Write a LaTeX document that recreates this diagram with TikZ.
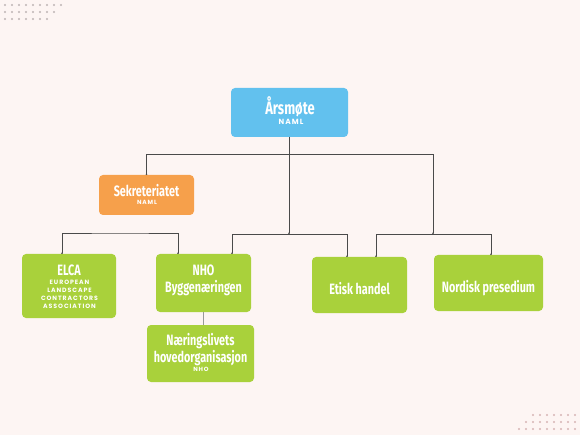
\documentclass[tikz,border=0pt]{standalone}
\usepackage{fontspec}
\usetikzlibrary{arrows.meta}
\newfontfamily\condfont[FakeStretch=0.72]{Fira Sans}
\newfontfamily\spacedfont[LetterSpace=15]{Poppins}
\newcommand\boxtitle[1]{{\condfont\bfseries\fontsize{15}{17}\selectfont #1}}
\newcommand\bigtitle[1]{{\condfont\bfseries\fontsize{18}{20}\selectfont #1}}
\newcommand\boxsub[2]{{\spacedfont\bfseries\fontsize{#1}{8}\selectfont #2}}
\definecolor{bgC}{HTML}{FDF5F3}
\definecolor{blueC}{HTML}{62C1EE}
\definecolor{orangeC}{HTML}{F6A04B}
\definecolor{greenC}{HTML}{A9D13B}
\definecolor{lineC}{HTML}{4A4A4A}
\definecolor{dotA}{HTML}{BDB4B4}
\definecolor{dotB}{HTML}{D6B4B4}
\begin{document}
\begin{tikzpicture}[x=1pt,y=-1pt,
  box/.style={rounded corners=4pt, draw=none, outer sep=0pt, inner sep=0pt, anchor=north west},
  txt/.style={text=white, anchor=base, inner sep=0pt},
  conn/.style={draw=lineC, line width=0.7pt},
  tipend/.style={-{Circle[length=1.6pt]}},
  tipboth/.style={{Circle[length=1.6pt]}-{Circle[length=1.6pt]}},
  lightconn/.style={draw=black!40, line width=0.7pt}]
\fill[bgC] (0,0) rectangle (580,435);
\useasboundingbox (0,0) rectangle (580,435);
% decorative dots
\foreach \r/\n in {0/9,1/8,2/7}{
  \foreach \k in {1,...,\n}{
    \fill[dotA] ({5+7*(\k-1)},{5+7*\r}) circle (1.2);
  }
}
\foreach \r/\n in {0/7,1/8,2/9}{
  \foreach \k in {1,...,\n}{
    \fill[dotB] ({575-7*(\k-1)},{415+7*\r}) circle (1.2);
  }
}
% boxes
\node[box, fill=blueC, minimum width=117pt, minimum height=49pt] (arsmote) at (231,88) {};
\node[box, fill=orangeC, minimum width=95pt, minimum height=40pt] (sek) at (99,175) {};
\node[box, fill=greenC, minimum width=94pt, minimum height=64pt] (elca) at (22,254) {};
\node[box, fill=greenC, minimum width=95pt, minimum height=58pt] (nho) at (156,254) {};
\node[box, fill=greenC, minimum width=107pt, minimum height=57pt] (naer) at (147,325) {};
\node[box, fill=greenC, minimum width=95pt, minimum height=56pt] (etisk) at (312,257) {};
\node[box, fill=greenC, minimum width=109pt, minimum height=56pt] (nord) at (434,255) {};
% texts
\node[txt] (arsmote-t) at (290,115) {\bigtitle{Årsmøte}};
\node[txt] (arsmote-s) at (291,124.5) {\boxsub{7.5}{NAML}};
\node[txt] (sek-t) at (146.5,197) {\boxtitle{Sekreteriatet}};
\node[txt] (sek-s) at (147,204.5) {\boxsub{6}{NAML}};
\node[txt] (elca-t) at (69,276) {\boxtitle{ELCA}};
\node[txt] (elca-s1) at (69.5,284) {\boxsub{6.2}{EUROPEAN}};
\node[txt] (elca-s2) at (69.5,292.3) {\boxsub{6.2}{LANDSCAPE}};
\node[txt] (elca-s3) at (69.5,300.3) {\boxsub{6.2}{CONTRACTORS}};
\node[txt] (elca-s4) at (69.5,308.7) {\boxsub{6.2}{ASSOCIATION}};
\node[txt] (nho-t1) at (203.5,276) {\boxtitle{NHO}};
\node[txt] (nho-t2) at (203.5,292.7) {\boxtitle{Byggenæringen}};
\node[txt] (naer-t1) at (200.5,345) {\boxtitle{Næringslivets}};
\node[txt] (naer-t2) at (200.5,362.3) {\boxtitle{hovedorganisasjon}};
\node[txt] (naer-s) at (201,371.5) {\boxsub{6}{NHO}};
\node[txt] (etisk-t) at (359.5,294.3) {\boxtitle{Etisk handel}};
\node[txt] (nord-t) at (488.5,292.7) {\boxtitle{Nordisk presedium}};
% junctions
\coordinate (topbus) at (289,154);
\coordinate (midbus) at (289,234);
\coordinate (rightbus) at (433,234);
\coordinate (rightcorner) at (433,154);
\coordinate (leftbus) at (120,233);
% connectors
\draw[conn, tipend] (arsmote.south -| midbus) -- (midbus);
\draw[conn, tipend] (topbus) -| (sek.north);
\draw[conn, tipend] (topbus) -- (rightcorner) -- (rightbus);
\draw[conn, tipend] (midbus) -| ([xshift=28.5pt]nho.north);
\draw[conn, tipend] (midbus) -| ([xshift=-12.5pt]etisk.north);
\draw[conn, tipend] (rightbus) -| ([xshift=16.5pt]etisk.north);
\draw[conn, tipend] (rightbus) -| ([xshift=2.5pt]nord.north);
\draw[conn, tipboth] ([xshift=-7pt]elca.north) |- (leftbus) -| ([xshift=-25.5pt]nho.north);
\draw[lightconn] (nho.south) -- (nho.south |- naer.north);
\end{tikzpicture}
\end{document}
